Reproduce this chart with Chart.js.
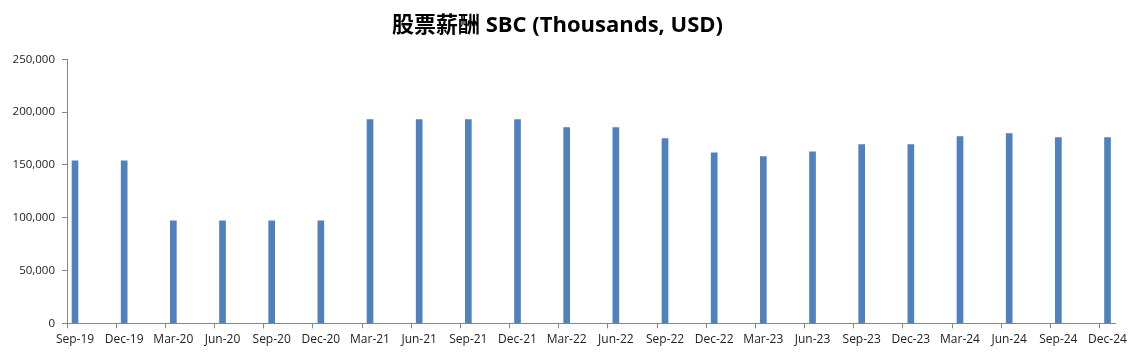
<!DOCTYPE html>
<html lang="zh">
<head>
    <meta charset="UTF-8">
    <title>股票薪酬 SBC</title>
    <script src="https://cdn.jsdelivr.net/npm/chart.js@4.4.1/dist/chart.umd.min.js"></script>
    <style>
        body { margin: 0; padding: 0; background: #ffffff; }
        .chart-container { position: relative; width: 1139px; height: 361px; }
    </style>
</head>
<body>
    <div class="chart-container">
        <canvas id="sbcChart"></canvas>
    </div>

    <script>
        // 分类 / 数据
        const quarters = ['Sep-19', 'Dec-19', 'Mar-20', 'Jun-20', 'Sep-20', 'Dec-20', 'Mar-21', 'Jun-21',
            'Sep-21', 'Dec-21', 'Mar-22', 'Jun-22', 'Sep-22', 'Dec-22', 'Mar-23', 'Jun-23',
            'Sep-23', 'Dec-23', 'Mar-24', 'Jun-24', 'Sep-24', 'Dec-24'];
        const sbcValues = [154000, 154000, 97000, 97000, 97000, 97000, 193000, 193000,
            193000, 193000, 185500, 185500, 175000, 161500, 158000, 162500,
            169300, 169300, 177000, 179700, 176000, 176000];
        const yTicks = [0, 50000, 100000, 150000, 200000, 250000];

        const tickShift = 0.163; // tick marks sit a little left of each bar

        new Chart(document.getElementById('sbcChart'), {
            type: 'bar',
            data: {
                datasets: [{
                    label: 'SBC',
                    data: sbcValues.map((v, i) => ({ x: i, y: v })),
                    backgroundColor: '#4F81BD',
                    barThickness: 6
                }]
            },
            options: {
                responsive: true,
                maintainAspectRatio: false,
                animation: false,
                layout: { padding: { left: 0, right: 24, top: 0, bottom: 0 } },
                plugins: {
                    legend: { display: false },
                    tooltip: { enabled: false },
                    title: {
                        display: true,
                        text: '股票薪酬 SBC (Thousands, USD)',
                        color: '#000',
                        font: { family: "'Open Sans', 'Noto Sans CJK SC', sans-serif", size: 22, weight: 'bold' },
                        padding: { top: 13, bottom: 20 }
                    }
                },
                scales: {
                    x: {
                        type: 'linear',
                        offset: false,
                        min: -tickShift,
                        max: quarters.length - 1 + 0.152,
                        afterBuildTicks: (scale) => {
                            scale.ticks = quarters.map((q, i) => ({ value: i - tickShift }));
                        },
                        afterFit: (scale) => { scale.height = 37.7; },
                        border: { display: true, color: '#868686', width: 1 },
                        grid: { offset: false, drawOnChartArea: false, drawTicks: true, tickLength: 5, color: '#868686' },
                        ticks: {
                            autoSkip: false,
                            maxRotation: 0,
                            labelOffset: 8,
                            padding: 4,
                            color: '#222',
                            font: { family: "'Open Sans', sans-serif", size: 12 },
                            callback: (value, index) => quarters[index]
                        }
                    },
                    y: {
                        min: 0,
                        max: 250000,
                        afterBuildTicks: (scale) => {
                            scale.ticks = yTicks.map(v => ({ value: v }));
                        },
                        afterFit: (scale) => { scale.width = 67; },
                        border: { display: true, color: '#868686', width: 1 },
                        grid: { drawOnChartArea: false, drawTicks: true, tickLength: 5, color: '#868686' },
                        ticks: {
                            padding: 7,
                            color: '#222',
                            font: { family: "'Open Sans', sans-serif", size: 11.5 },
                            callback: (value) => value.toLocaleString('en-US')
                        }
                    }
                }
            }
        });
    </script>
</body>
</html>
